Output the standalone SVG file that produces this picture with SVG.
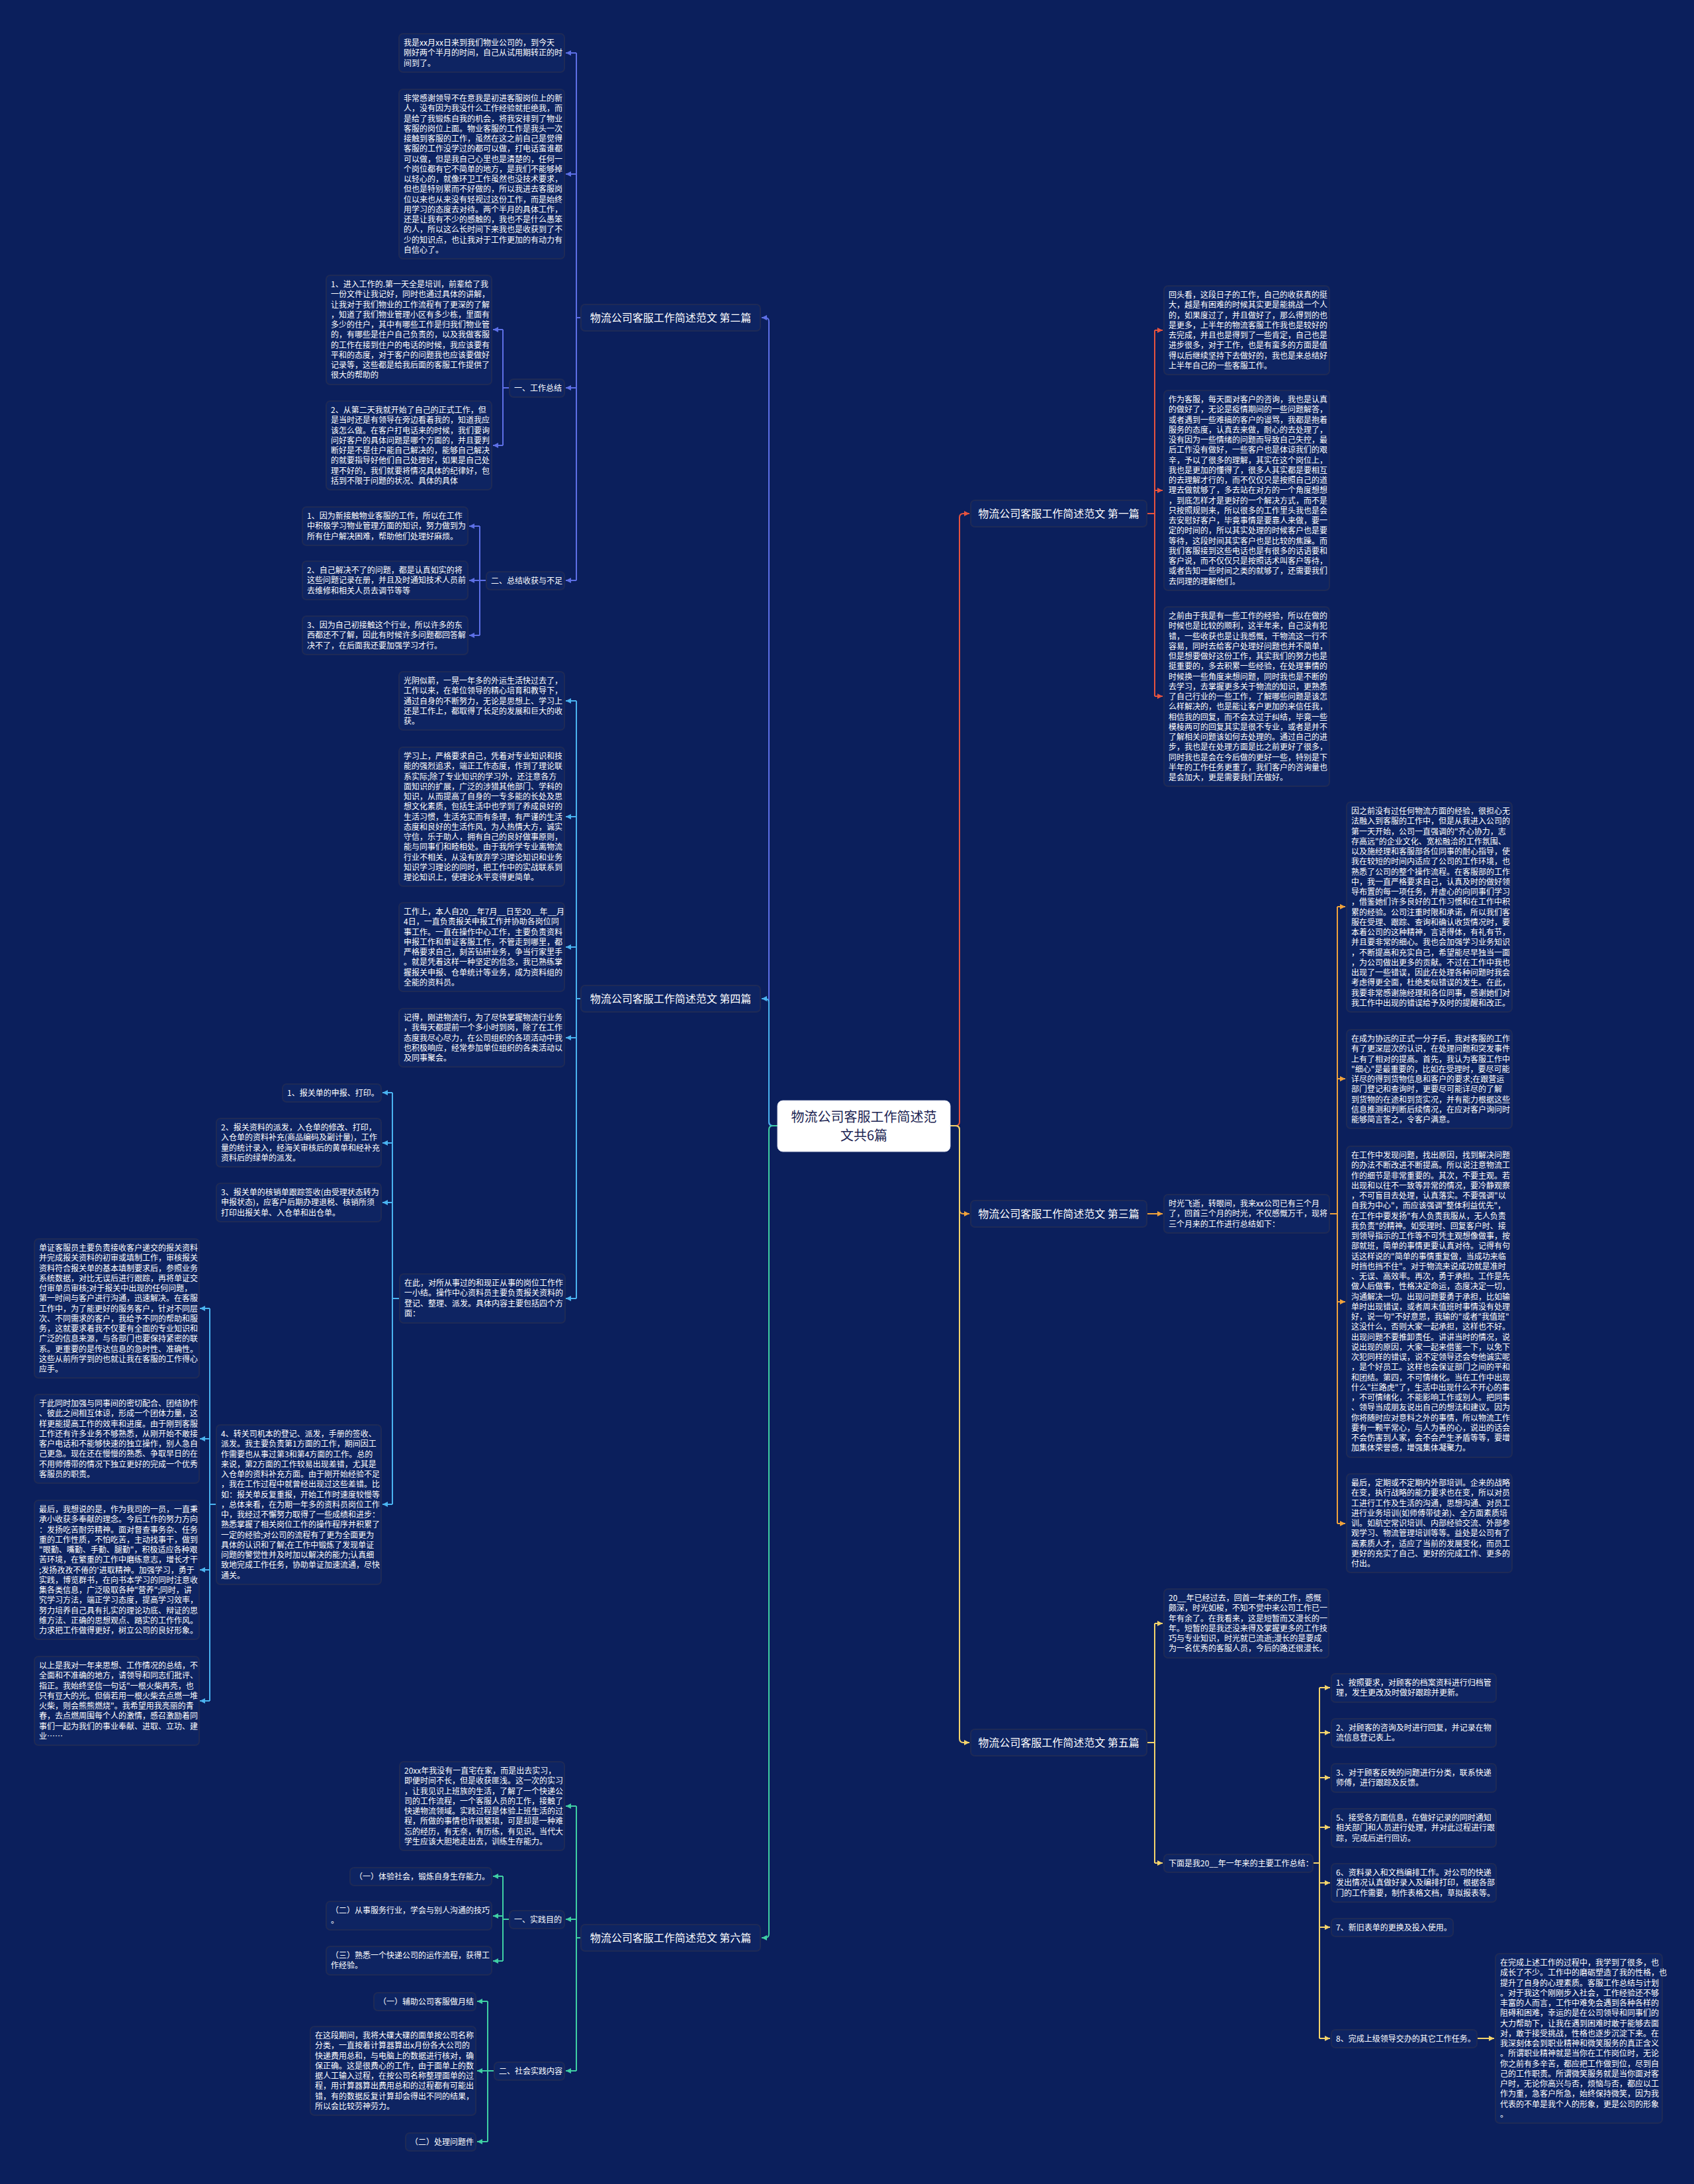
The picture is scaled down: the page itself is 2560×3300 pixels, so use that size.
<svg xmlns="http://www.w3.org/2000/svg" width="2560" height="3300" viewBox="0 0 2560 3300">
<defs>
<style>
.bg{fill:#0b1f5c}
.box{fill:#0e2462;stroke:#1e2a56;stroke-width:2}
.b1box{fill:#0e2462;stroke:#1e2a56;stroke-width:2}
.root{fill:#ffffff;stroke:#dfe3f0;stroke-width:1}
.t{font-family:"Noto Sans CJK SC","Noto Sans",sans-serif;font-size:12px;fill:#ffffff}
.t1{font-family:"Noto Sans CJK SC","Noto Sans",sans-serif;font-size:16px;fill:#ffffff;text-anchor:middle}
.tr{font-family:"Noto Sans CJK SC","Noto Sans",sans-serif;font-size:20px;fill:#1c2452;text-anchor:middle}
.c{fill:none;stroke-width:2;stroke-linejoin:round}
.cb{stroke:#5d6fe6}.cc{stroke:#4ab3f0}.cg{stroke:#3fcfa3}
.cr{stroke:#e5533f}.co{stroke:#f0a23c}.cy{stroke:#f3d36b}
</style>
<marker id="ab" viewBox="0 0 8 8" refX="8" refY="4" markerWidth="8" markerHeight="8" markerUnits="userSpaceOnUse" orient="auto"><path d="M0,0L8,4L0,8z" fill="#5d6fe6"/></marker>
<marker id="ac" viewBox="0 0 8 8" refX="8" refY="4" markerWidth="8" markerHeight="8" markerUnits="userSpaceOnUse" orient="auto"><path d="M0,0L8,4L0,8z" fill="#4ab3f0"/></marker>
<marker id="ag" viewBox="0 0 8 8" refX="8" refY="4" markerWidth="8" markerHeight="8" markerUnits="userSpaceOnUse" orient="auto"><path d="M0,0L8,4L0,8z" fill="#3fcfa3"/></marker>
<marker id="ar" viewBox="0 0 8 8" refX="8" refY="4" markerWidth="8" markerHeight="8" markerUnits="userSpaceOnUse" orient="auto"><path d="M0,0L8,4L0,8z" fill="#e5533f"/></marker>
<marker id="ao" viewBox="0 0 8 8" refX="8" refY="4" markerWidth="8" markerHeight="8" markerUnits="userSpaceOnUse" orient="auto"><path d="M0,0L8,4L0,8z" fill="#f0a23c"/></marker>
<marker id="ay" viewBox="0 0 8 8" refX="8" refY="4" markerWidth="8" markerHeight="8" markerUnits="userSpaceOnUse" orient="auto"><path d="M0,0L8,4L0,8z" fill="#f3d36b"/></marker>
</defs>
<rect class="bg" x="0" y="0" width="2560" height="3300"/>

<g id="connectors">
<path class="c cb" d="M1175,1701H1168Q1162,1701 1162,1695V486Q1162,480 1156,480H1151" marker-end="url(#ab)"/>
<path class="c cc" d="M1175,1701H1168Q1162,1701 1162,1695V1515Q1162,1509 1156,1509H1151" marker-end="url(#ac)"/>
<path class="c cg" d="M1175,1701H1168Q1162,1701 1162,1707V2922Q1162,2928 1156,2928H1151" marker-end="url(#ag)"/>
<path class="c cr" d="M1436,1701H1444Q1450,1701 1450,1695V782Q1450,776 1456,776H1465" marker-end="url(#ar)"/>
<path class="c co" d="M1436,1701H1444Q1450,1701 1450,1707V1828Q1450,1834 1456,1834H1465" marker-end="url(#ao)"/>
<path class="c cy" d="M1436,1701H1444Q1450,1701 1450,1707V2627Q1450,2633 1456,2633H1465" marker-end="url(#ay)"/>
<path class="c cb" d="M878,480H871M871,80V877"/>
<path class="c cb" d="M871,80H855" marker-end="url(#ab)"/>
<path class="c cb" d="M871,263H855" marker-end="url(#ab)"/>
<path class="c cb" d="M871,586H855" marker-end="url(#ab)"/>
<path class="c cb" d="M871,877H855" marker-end="url(#ab)"/>
<path class="c cb" d="M770,586H760M760,498V673"/>
<path class="c cb" d="M760,498H745" marker-end="url(#ab)"/>
<path class="c cb" d="M760,673H745" marker-end="url(#ab)"/>
<path class="c cb" d="M735,877H725M725,795V960"/>
<path class="c cb" d="M725,795H709" marker-end="url(#ab)"/>
<path class="c cb" d="M725,877H709" marker-end="url(#ab)"/>
<path class="c cb" d="M725,960H709" marker-end="url(#ab)"/>
<path class="c cc" d="M878,1509H871M871,1059V1962"/>
<path class="c cc" d="M871,1059H855" marker-end="url(#ac)"/>
<path class="c cc" d="M871,1234H855" marker-end="url(#ac)"/>
<path class="c cc" d="M871,1431H855" marker-end="url(#ac)"/>
<path class="c cc" d="M871,1568H855" marker-end="url(#ac)"/>
<path class="c cc" d="M871,1962H855" marker-end="url(#ac)"/>
<path class="c cc" d="M604,1962H593M593,1651V2273"/>
<path class="c cc" d="M593,1651H578" marker-end="url(#ac)"/>
<path class="c cc" d="M593,1727H578" marker-end="url(#ac)"/>
<path class="c cc" d="M593,1817H578" marker-end="url(#ac)"/>
<path class="c cc" d="M593,2273H578" marker-end="url(#ac)"/>
<path class="c cc" d="M327,2273H317M317,1977V2570"/>
<path class="c cc" d="M317,1977H302" marker-end="url(#ac)"/>
<path class="c cc" d="M317,2174H302" marker-end="url(#ac)"/>
<path class="c cc" d="M317,2372H302" marker-end="url(#ac)"/>
<path class="c cc" d="M317,2570H302" marker-end="url(#ac)"/>
<path class="c cg" d="M878,2928H871M871,2729V3129"/>
<path class="c cg" d="M871,2729H855" marker-end="url(#ag)"/>
<path class="c cg" d="M871,2900H855" marker-end="url(#ag)"/>
<path class="c cg" d="M871,3129H855" marker-end="url(#ag)"/>
<path class="c cg" d="M770,2900H760M760,2835V2963"/>
<path class="c cg" d="M760,2835H745" marker-end="url(#ag)"/>
<path class="c cg" d="M760,2895H745" marker-end="url(#ag)"/>
<path class="c cg" d="M760,2963H745" marker-end="url(#ag)"/>
<path class="c cg" d="M747,3129H737M737,3024V3236"/>
<path class="c cg" d="M737,3024H721" marker-end="url(#ag)"/>
<path class="c cg" d="M737,3129H721" marker-end="url(#ag)"/>
<path class="c cg" d="M737,3236H721" marker-end="url(#ag)"/>
<path class="c cr" d="M1733,776H1745M1745,499V1052"/>
<path class="c cr" d="M1745,499H1757" marker-end="url(#ar)"/>
<path class="c cr" d="M1745,741H1757" marker-end="url(#ar)"/>
<path class="c cr" d="M1745,1052H1757" marker-end="url(#ar)"/>
<path class="c co" d="M1733,1834H1757" marker-end="url(#ao)"/>
<path class="c co" d="M2009,1834H2021M2021,1370V2302"/>
<path class="c co" d="M2021,1370H2033" marker-end="url(#ao)"/>
<path class="c co" d="M2021,1630H2033" marker-end="url(#ao)"/>
<path class="c co" d="M2021,1967H2033" marker-end="url(#ao)"/>
<path class="c co" d="M2021,2302H2033" marker-end="url(#ao)"/>
<path class="c cy" d="M1733,2633H1745M1745,2453V2815"/>
<path class="c cy" d="M1745,2453H1757" marker-end="url(#ay)"/>
<path class="c cy" d="M1745,2815H1757" marker-end="url(#ay)"/>
<path class="c cy" d="M1984,2815H1994M1994,2550V3080"/>
<path class="c cy" d="M1994,2550H2010" marker-end="url(#ay)"/>
<path class="c cy" d="M1994,2618H2010" marker-end="url(#ay)"/>
<path class="c cy" d="M1994,2686H2010" marker-end="url(#ay)"/>
<path class="c cy" d="M1994,2761H2010" marker-end="url(#ay)"/>
<path class="c cy" d="M1994,2845H2010" marker-end="url(#ay)"/>
<path class="c cy" d="M1994,2912H2010" marker-end="url(#ay)"/>
<path class="c cy" d="M1994,3080H2010" marker-end="url(#ay)"/>
<path class="c cy" d="M2232,3080H2258" marker-end="url(#ay)"/>
</g>

<g id="root">
<rect class="root" x="1175" y="1663" width="261" height="77" rx="8"/>
<text class="tr" x="1305.5" y="1695">物流公司客服工作简述范</text>
<text class="tr" x="1305.5" y="1723">文共6篇</text>
</g>

<g id="b2"><rect class="b1box" x="878" y="460" width="271" height="40" rx="6"/><text class="t1" x="1013.5" y="485.5">物流公司客服工作简述范文 第二篇</text></g>
<g id="b4"><rect class="b1box" x="878" y="1489" width="271" height="40" rx="6"/><text class="t1" x="1013.5" y="1514.5">物流公司客服工作简述范文 第四篇</text></g>
<g id="b6"><rect class="b1box" x="878" y="2908" width="271" height="40" rx="6"/><text class="t1" x="1013.5" y="2933.5">物流公司客服工作简述范文 第六篇</text></g>
<g id="b1"><rect class="b1box" x="1467" y="756" width="266" height="40" rx="6"/><text class="t1" x="1600" y="781.5">物流公司客服工作简述范文 第一篇</text></g>
<g id="b3"><rect class="b1box" x="1467" y="1814" width="266" height="40" rx="6"/><text class="t1" x="1600" y="1839.5">物流公司客服工作简述范文 第三篇</text></g>
<g id="b5"><rect class="b1box" x="1467" y="2613" width="266" height="40" rx="6"/><text class="t1" x="1600" y="2638.5">物流公司客服工作简述范文 第五篇</text></g>

<g id="b2-p1"><rect class="box" x="603" y="51" width="250" height="58" rx="6"/>
<text class="t" x="610" y="69"><tspan x="610" dy="0">我是xx月xx日来到我们物业公司的，到今天</tspan><tspan x="610" dy="15.25">刚好两个半月的时间，自己从试用期转正的时</tspan><tspan x="610" dy="15.25">间到了。</tspan></text></g>
<g id="b2-p2"><rect class="box" x="603" y="135" width="250" height="256" rx="6"/>
<text class="t" x="610" y="153"><tspan x="610" dy="0">非常感谢领导不在意我是初进客服岗位上的新</tspan><tspan x="610" dy="15.25">人，没有因为我没什么工作经验就拒绝我，而</tspan><tspan x="610" dy="15.25">是给了我锻炼自我的机会，将我安排到了物业</tspan><tspan x="610" dy="15.25">客服的岗位上面。物业客服的工作是我头一次</tspan><tspan x="610" dy="15.25">接触到客服的工作，虽然在这之前自己是觉得</tspan><tspan x="610" dy="15.25">客服的工作没学过的都可以做，打电话蛮谁都</tspan><tspan x="610" dy="15.25">可以做，但是我自己心里也是清楚的，任何一</tspan><tspan x="610" dy="15.25">个岗位都有它不简单的地方，是我们不能够掉</tspan><tspan x="610" dy="15.25">以轻心的，就像环卫工作虽然也没技术要求，</tspan><tspan x="610" dy="15.25">但也是特别累而不好做的，所以我进去客服岗</tspan><tspan x="610" dy="15.25">位以来也从来没有轻视过这份工作，而是始终</tspan><tspan x="610" dy="15.25">用学习的态度去对待。两个半月的具体工作，</tspan><tspan x="610" dy="15.25">还是让我有不少的感触的，我也不是什么愚笨</tspan><tspan x="610" dy="15.25">的人，所以这么长时间下来我也是收获到了不</tspan><tspan x="610" dy="15.25">少的知识点，也让我对于工作更加的有动力有</tspan><tspan x="610" dy="15.25">自信心了。</tspan></text></g>
<g id="b2-s1"><rect class="box" x="770" y="573" width="83" height="27" rx="6"/><text class="t" x="777" y="591">一、工作总结</text></g>
<g id="b2-s1-1"><rect class="box" x="493" y="416" width="250" height="165" rx="6"/>
<text class="t" x="500" y="434"><tspan x="500" dy="0">1、进入工作的.第一天全是培训，前辈给了我</tspan><tspan x="500" dy="15.25">一份文件让我记好，同时也通过具体的讲解，</tspan><tspan x="500" dy="15.25">让我对于我们物业的工作流程有了更深的了解</tspan><tspan x="500" dy="15.25">，知道了我们物业管理小区有多少栋，里面有</tspan><tspan x="500" dy="15.25">多少的住户，其中有哪些工作是归我们物业管</tspan><tspan x="500" dy="15.25">的，有哪些是住户自己负责的，以及我做客服</tspan><tspan x="500" dy="15.25">的工作在接到住户的电话的时候，我应该要有</tspan><tspan x="500" dy="15.25">平和的态度，对于客户的问题我也应该要做好</tspan><tspan x="500" dy="15.25">记录等，这些都是给我后面的客服工作提供了</tspan><tspan x="500" dy="15.25">很大的帮助的</tspan></text></g>
<g id="b2-s1-2"><rect class="box" x="493" y="606" width="250" height="134" rx="6"/>
<text class="t" x="500" y="624"><tspan x="500" dy="0">2、从第二天我就开始了自己的正式工作，但</tspan><tspan x="500" dy="15.25">是当时还是有领导在旁边看着我的，知道我应</tspan><tspan x="500" dy="15.25">该怎么做。在客户打电话来的时候，我们要询</tspan><tspan x="500" dy="15.25">问好客户的具体问题是哪个方面的，并且要判</tspan><tspan x="500" dy="15.25">断好是不是住户能自己解决的，能够自己解决</tspan><tspan x="500" dy="15.25">的就要指导好他们自己处理好，如果是自己处</tspan><tspan x="500" dy="15.25">理不好的，我们就要将情况具体的纪律好，包</tspan><tspan x="500" dy="15.25">括到不限于问题的状况、具体的具体</tspan></text></g>
<g id="b2-s2"><rect class="box" x="735" y="864" width="118" height="27" rx="6"/><text class="t" x="742" y="882">二、总结收获与不足</text></g>
<g id="b2-s2-1"><rect class="box" x="457" y="766" width="250" height="58" rx="6"/>
<text class="t" x="464" y="784"><tspan x="464" dy="0">1、因为新接触物业客服的工作，所以在工作</tspan><tspan x="464" dy="15.25">中积极学习物业管理方面的知识，努力做到为</tspan><tspan x="464" dy="15.25">所有住户解决困难，帮助他们处理好麻烦。</tspan></text></g>
<g id="b2-s2-2"><rect class="box" x="457" y="848" width="250" height="58" rx="6"/>
<text class="t" x="464" y="866"><tspan x="464" dy="0">2、自己解决不了的问题，都是认真如实的将</tspan><tspan x="464" dy="15.25">这些问题记录在册，并且及时通知技术人员前</tspan><tspan x="464" dy="15.25">去维修和相关人员去调节等等</tspan></text></g>
<g id="b2-s2-3"><rect class="box" x="457" y="931" width="250" height="58" rx="6"/>
<text class="t" x="464" y="949"><tspan x="464" dy="0">3、因为自己初接触这个行业，所以许多的东</tspan><tspan x="464" dy="15.25">西都还不了解，因此有时候许多问题都回答解</tspan><tspan x="464" dy="15.25">决不了，在后面我还要加强学习才行。</tspan></text></g>

<g id="b4-p1"><rect class="box" x="603" y="1015" width="250" height="88" rx="6"/>
<text class="t" x="610" y="1033"><tspan x="610" dy="0">光阴似箭，一晃一年多的外运生活快过去了，</tspan><tspan x="610" dy="15.25">工作以来，在单位领导的精心培育和教导下，</tspan><tspan x="610" dy="15.25">通过自身的不断努力，无论是思想上、学习上</tspan><tspan x="610" dy="15.25">还是工作上，都取得了长足的发展和巨大的收</tspan><tspan x="610" dy="15.25">获。</tspan></text></g>
<g id="b4-p2"><rect class="box" x="603" y="1129" width="250" height="210" rx="6"/>
<text class="t" x="610" y="1147"><tspan x="610" dy="0">学习上，严格要求自己，凭着对专业知识和技</tspan><tspan x="610" dy="15.25">能的强烈追求，端正工作态度，作到了理论联</tspan><tspan x="610" dy="15.25">系实际;除了专业知识的学习外，还注意各方</tspan><tspan x="610" dy="15.25">面知识的扩展，广泛的涉猎其他部门、学科的</tspan><tspan x="610" dy="15.25">知识，从而提高了自身的一专多能的长处及思</tspan><tspan x="610" dy="15.25">想文化素质，包括生活中也学到了养成良好的</tspan><tspan x="610" dy="15.25">生活习惯，生活充实而有条理，有严谨的生活</tspan><tspan x="610" dy="15.25">态度和良好的生活作风，为人热情大方，诚实</tspan><tspan x="610" dy="15.25">守信，乐于助人，拥有自己的良好做事原则，</tspan><tspan x="610" dy="15.25">能与同事们和睦相处。由于我所学专业离物流</tspan><tspan x="610" dy="15.25">行业不相关，从没有放弃学习理论知识和业务</tspan><tspan x="610" dy="15.25">知识学习理论的同时，把工作中的实战联系到</tspan><tspan x="610" dy="15.25">理论知识上，使理论水平变得更简单。</tspan></text></g>
<g id="b4-p3"><rect class="box" x="603" y="1364" width="250" height="134" rx="6"/>
<text class="t" x="610" y="1382"><tspan x="610" dy="0">工作上，本人自20__年7月__日至20__年__月</tspan><tspan x="610" dy="15.25">4日，一直负责报关申报工作并协助各岗位同</tspan><tspan x="610" dy="15.25">事工作。一直在操作中心工作，主要负责资料</tspan><tspan x="610" dy="15.25">申报工作和单证客服工作，不管走到哪里，都</tspan><tspan x="610" dy="15.25">严格要求自己，刻苦钻研业务，争当行家里手</tspan><tspan x="610" dy="15.25">。就是凭着这样一种坚定的信念，我已熟练掌</tspan><tspan x="610" dy="15.25">握报关申报、仓单统计等业务，成为资料组的</tspan><tspan x="610" dy="15.25">全能的资料员。</tspan></text></g>
<g id="b4-p4"><rect class="box" x="603" y="1524" width="250" height="88" rx="6"/>
<text class="t" x="610" y="1542"><tspan x="610" dy="0">记得，刚进物流行，为了尽快掌握物流行业务</tspan><tspan x="610" dy="15.25">，我每天都提前一个多小时到岗，除了在工作</tspan><tspan x="610" dy="15.25">态度我尽心尽力，在公司组织的各项活动中我</tspan><tspan x="610" dy="15.25">也积极响应，经常参加单位组织的各类活动以</tspan><tspan x="610" dy="15.25">及同事聚会。</tspan></text></g>
<g id="b4-p5"><rect class="box" x="604" y="1925" width="250" height="74" rx="6"/>
<text class="t" x="611" y="1943"><tspan x="611" dy="0">在此，对所从事过的和现正从事的岗位工作作</tspan><tspan x="611" dy="15.25">一小结。操作中心资料员主要负责报关资料的</tspan><tspan x="611" dy="15.25">登记、整理、派发。具体内容主要包括四个方</tspan><tspan x="611" dy="15.25">面：</tspan></text></g>
<g id="b4-i1"><rect class="box" x="427" y="1638" width="149" height="27" rx="6"/><text class="t" x="434" y="1656">1、报关单的申报、打印。</text></g>
<g id="b4-i2"><rect class="box" x="327" y="1690" width="249" height="73" rx="6"/>
<text class="t" x="334" y="1708"><tspan x="334" dy="0">2、报关资料的派发，入仓单的修改、打印，</tspan><tspan x="334" dy="15.25">入仓单的资料补充(商品编码及副计量)，工作</tspan><tspan x="334" dy="15.25">量的统计录入，经海关审核后的黄单和经补充</tspan><tspan x="334" dy="15.25">资料后的绿单的派发。</tspan></text></g>
<g id="b4-i3"><rect class="box" x="327" y="1788" width="249" height="58" rx="6"/>
<text class="t" x="334" y="1806"><tspan x="334" dy="0">3、报关单的核销单跟踪签收(由受理状态转为</tspan><tspan x="334" dy="15.25">申报状态)，应客户后期办理退税、核销所须</tspan><tspan x="334" dy="15.25">打印出报关单、入仓单和出仓单。</tspan></text></g>
<g id="b4-i4"><rect class="box" x="327" y="2153" width="249" height="241" rx="6"/>
<text class="t" x="334" y="2171"><tspan x="334" dy="0">4、转关司机本的登记、派发，手册的签收、</tspan><tspan x="334" dy="15.25">派发。我主要负责第1方面的工作，期间因工</tspan><tspan x="334" dy="15.25">作需要也从事过第3和第4方面的工作。总的</tspan><tspan x="334" dy="15.25">来说，第2方面的工作较易出现差错，尤其是</tspan><tspan x="334" dy="15.25">入仓单的资料补充方面。由于刚开始经验不足</tspan><tspan x="334" dy="15.25">，我在工作过程中就曾经出现过这些差错。比</tspan><tspan x="334" dy="15.25">如：报关单反复重报，开始工作时速度较慢等</tspan><tspan x="334" dy="15.25">，总体来看，在为期一年多的资料员岗位工作</tspan><tspan x="334" dy="15.25">中，我经过不懈努力取得了一些成绩和进步：</tspan><tspan x="334" dy="15.25">熟悉掌握了相关岗位工作的操作程序并积累了</tspan><tspan x="334" dy="15.25">一定的经验;对公司的流程有了更为全面更为</tspan><tspan x="334" dy="15.25">具体的认识和了解;在工作中锻炼了发现单证</tspan><tspan x="334" dy="15.25">问题的警觉性并及时加以解决的能力;认真细</tspan><tspan x="334" dy="15.25">致地完成工作任务，协助单证加速流通，尽快</tspan><tspan x="334" dy="15.25">通关。</tspan></text></g>
<g id="b4-f1"><rect class="box" x="52" y="1872" width="249" height="210" rx="6"/>
<text class="t" x="59" y="1890"><tspan x="59" dy="0">单证客服员主要负责接收客户递交的报关资料</tspan><tspan x="59" dy="15.25">并完成报关资料的初审或填制工作，审核报关</tspan><tspan x="59" dy="15.25">资料符合报关单的基本填制要求后，参照业务</tspan><tspan x="59" dy="15.25">系统数据，对比无误后进行跟踪，再将单证交</tspan><tspan x="59" dy="15.25">付审单员审核;对于报关中出现的任何问题，</tspan><tspan x="59" dy="15.25">第一时间与客户进行沟通，迅速解决。在客服</tspan><tspan x="59" dy="15.25">工作中，为了能更好的服务客户，针对不同层</tspan><tspan x="59" dy="15.25">次、不同需求的客户，我给予不同的帮助和服</tspan><tspan x="59" dy="15.25">务，这就要求着我不仅要有全面的专业知识和</tspan><tspan x="59" dy="15.25">广泛的信息来源，与各部门也要保持紧密的联</tspan><tspan x="59" dy="15.25">系。更重要的是传达信息的急时性、准确性。</tspan><tspan x="59" dy="15.25">这些从前所学到的也就让我在客服的工作得心</tspan><tspan x="59" dy="15.25">应手。</tspan></text></g>
<g id="b4-f2"><rect class="box" x="52" y="2107" width="249" height="134" rx="6"/>
<text class="t" x="59" y="2125"><tspan x="59" dy="0">于此同时加强与同事间的密切配合、团结协作</tspan><tspan x="59" dy="15.25">、彼此之间相互体谅，形成一个团体力量，这</tspan><tspan x="59" dy="15.25">样更能提高工作的效率和进度。由于刚到客服</tspan><tspan x="59" dy="15.25">工作还有许多业务不够熟悉，从刚开始不敢接</tspan><tspan x="59" dy="15.25">客户电话和不能够快速的独立操作，别人急自</tspan><tspan x="59" dy="15.25">己更急。现在还在慢慢的熟悉、争取早日的在</tspan><tspan x="59" dy="15.25">不用师傅带的情况下独立更好的完成一个优秀</tspan><tspan x="59" dy="15.25">客服员的职责。</tspan></text></g>
<g id="b4-f3"><rect class="box" x="52" y="2267" width="249" height="210" rx="6"/>
<text class="t" x="59" y="2285"><tspan x="59" dy="0">最后，我想说的是，作为我司的一员，一直秉</tspan><tspan x="59" dy="15.25">承小收获多奉献的理念。今后工作的努力方向</tspan><tspan x="59" dy="15.25">：发扬吃苦耐劳精神。面对督查事务杂、任务</tspan><tspan x="59" dy="15.25">重的工作性质，不怕吃苦，主动找事干，做到</tspan><tspan x="59" dy="15.25">"眼勤、嘴勤、手勤、腿勤"，积极适应各种艰</tspan><tspan x="59" dy="15.25">苦环境，在繁重的工作中磨练意志，增长才干</tspan><tspan x="59" dy="15.25">;发扬孜孜不倦的'进取精神。加强学习，勇于</tspan><tspan x="59" dy="15.25">实践，博览群书，在向书本学习的同时注意收</tspan><tspan x="59" dy="15.25">集各类信息，广泛吸取各种"营养";同时，讲</tspan><tspan x="59" dy="15.25">究学习方法，端正学习态度，提高学习效率，</tspan><tspan x="59" dy="15.25">努力培养自己具有扎实的理论功底、辩证的思</tspan><tspan x="59" dy="15.25">维方法、正确的思想观点、踏实的工作作风。</tspan><tspan x="59" dy="15.25">力求把工作做得更好，树立公司的良好形象。</tspan></text></g>
<g id="b4-f4"><rect class="box" x="52" y="2503" width="249" height="134" rx="6"/>
<text class="t" x="59" y="2521"><tspan x="59" dy="0">以上是我对一年来思想、工作情况的总结，不</tspan><tspan x="59" dy="15.25">全面和不准确的地方，请领导和同志们批评、</tspan><tspan x="59" dy="15.25">指正。我始终坚信一句话"一根火柴再亮，也</tspan><tspan x="59" dy="15.25">只有豆大的光。但倘若用一根火柴去点燃一堆</tspan><tspan x="59" dy="15.25">火柴，则会熊熊燃烧"。我希望用我亮丽的青</tspan><tspan x="59" dy="15.25">春，去点燃周围每个人的激情，感召激励着同</tspan><tspan x="59" dy="15.25">事们一起为我们的事业奉献、进取、立功、建</tspan><tspan x="59" dy="15.25">业……</tspan></text></g>

<g id="b6-p1"><rect class="box" x="604" y="2662" width="249" height="134" rx="6"/>
<text class="t" x="611" y="2680"><tspan x="611" dy="0">20xx年我没有一直宅在家，而是出去实习，</tspan><tspan x="611" dy="15.25">即便时间不长，但是收获匪浅。这一次的实习</tspan><tspan x="611" dy="15.25">，让我见识上班族的生活，了解了一个快递公</tspan><tspan x="611" dy="15.25">司的工作流程，一个客服人员的工作，接触了</tspan><tspan x="611" dy="15.25">快递物流领域。实践过程是体验上班生活的过</tspan><tspan x="611" dy="15.25">程，所做的事情也许很繁琐，可是却是一种难</tspan><tspan x="611" dy="15.25">忘的经历，有无奈，有历练，有见识。当代大</tspan><tspan x="611" dy="15.25">学生应该大胆地走出去，训练生存能力。</tspan></text></g>
<g id="b6-s1"><rect class="box" x="770" y="2887" width="83" height="27" rx="6"/><text class="t" x="777" y="2905">一、实践目的</text></g>
<g id="b6-s1-1"><rect class="box" x="529" y="2822" width="214" height="27" rx="6"/><text class="t" x="536" y="2840">（一）体验社会，锻炼自身生存能力。</text></g>
<g id="b6-s1-2"><rect class="box" x="493" y="2873" width="250" height="43" rx="6"/>
<text class="t" x="500" y="2891"><tspan x="500" dy="0">（二）从事服务行业，学会与别人沟通的技巧</tspan><tspan x="500" dy="15.25">。</tspan></text></g>
<g id="b6-s1-3"><rect class="box" x="493" y="2941" width="250" height="43" rx="6"/>
<text class="t" x="500" y="2959"><tspan x="500" dy="0">（三）熟悉一个快递公司的运作流程，获得工</tspan><tspan x="500" dy="15.25">作经验。</tspan></text></g>
<g id="b6-s2"><rect class="box" x="747" y="3116" width="106" height="27" rx="6"/><text class="t" x="754" y="3134">二、社会实践内容</text></g>
<g id="b6-s2-1"><rect class="box" x="565" y="3011" width="154" height="27" rx="6"/><text class="t" x="572" y="3029">（一）辅助公司客服做月结</text></g>
<g id="b6-s2-2"><rect class="box" x="469" y="3062" width="250" height="134" rx="6"/>
<text class="t" x="476" y="3080"><tspan x="476" dy="0">在这段期间，我将大碟大碟的面单按公司名称</tspan><tspan x="476" dy="15.25">分类，一直按着计算器算出x月份各大公司的</tspan><tspan x="476" dy="15.25">快递费用总和，与电脑上的数据进行核对，确</tspan><tspan x="476" dy="15.25">保正确。这是很费心的工作，由于面单上的数</tspan><tspan x="476" dy="15.25">据人工输入过程，在按公司名称整理面单的过</tspan><tspan x="476" dy="15.25">程，用计算器算出费用总和的过程都有可能出</tspan><tspan x="476" dy="15.25">错，有的数据反复计算却会得出不同的结果，</tspan><tspan x="476" dy="15.25">所以会比较劳神劳力。</tspan></text></g>
<g id="b6-s2-3"><rect class="box" x="613" y="3223" width="106" height="27" rx="6"/><text class="t" x="620" y="3241">（二）处理问题件</text></g>

<g id="b1-p1"><rect class="box" x="1759" y="432" width="250" height="134" rx="6"/>
<text class="t" x="1766" y="450"><tspan x="1766" dy="0">回头看，这段日子的工作，自己的收获真的挺</tspan><tspan x="1766" dy="15.25">大，越是有困难的时候其实更是能挑战一个人</tspan><tspan x="1766" dy="15.25">的，如果度过了，并且做好了，那么得到的也</tspan><tspan x="1766" dy="15.25">是更多，上半年的物流客服工作我也是较好的</tspan><tspan x="1766" dy="15.25">去完成，并且也是得到了一些肯定，自己也是</tspan><tspan x="1766" dy="15.25">进步很多，对于工作，也是有蛮多的方面是值</tspan><tspan x="1766" dy="15.25">得以后继续坚持下去做好的，我也是来总结好</tspan><tspan x="1766" dy="15.25">上半年自己的一些客服工作。</tspan></text></g>
<g id="b1-p2"><rect class="box" x="1759" y="590" width="250" height="302" rx="6"/>
<text class="t" x="1766" y="608"><tspan x="1766" dy="0">作为客服，每天面对客户的咨询，我也是认真</tspan><tspan x="1766" dy="15.25">的做好了，无论是疫情期间的一些问题解答，</tspan><tspan x="1766" dy="15.25">或者遇到一些难搞的客户的谩骂，我都是抱着</tspan><tspan x="1766" dy="15.25">服务的态度，认真去来做，耐心的去处理了，</tspan><tspan x="1766" dy="15.25">没有因为一些情绪的问题而导致自己失控，最</tspan><tspan x="1766" dy="15.25">后工作没有做好，一些客户也是体谅我们的艰</tspan><tspan x="1766" dy="15.25">辛，予以了很多的理解，其实在这个岗位上，</tspan><tspan x="1766" dy="15.25">我也是更加的懂得了，很多人其实都是要相互</tspan><tspan x="1766" dy="15.25">的去理解才行的，而不仅仅只是按照自己的道</tspan><tspan x="1766" dy="15.25">理去做就够了，多去站在对方的一个角度想想</tspan><tspan x="1766" dy="15.25">，到底怎样才是更好的一个解决方式，而不是</tspan><tspan x="1766" dy="15.25">只按照规则来，所以很多的工作里头我也是会</tspan><tspan x="1766" dy="15.25">去安慰好客户，毕竟事情是要靠人来做，要一</tspan><tspan x="1766" dy="15.25">定的时间的，所以其实处理的时候客户也是要</tspan><tspan x="1766" dy="15.25">等待，这段时间其实客户也是比较的焦躁。而</tspan><tspan x="1766" dy="15.25">我们客服接到这些电话也是有很多的话语要和</tspan><tspan x="1766" dy="15.25">客户说，而不仅仅只是按照话术叫客户等待，</tspan><tspan x="1766" dy="15.25">或者告知一些时间之类的就够了，还需要我们</tspan><tspan x="1766" dy="15.25">去同理的理解他们。</tspan></text></g>
<g id="b1-p3"><rect class="box" x="1759" y="917" width="250" height="271" rx="6"/>
<text class="t" x="1766" y="935"><tspan x="1766" dy="0">之前由于我是有一些工作的经验，所以在做的</tspan><tspan x="1766" dy="15.25">时候也是比较的顺利，这半年来，自己没有犯</tspan><tspan x="1766" dy="15.25">错，一些收获也是让我感慨，干物流这一行不</tspan><tspan x="1766" dy="15.25">容易，同时去给客户处理好问题也并不简单，</tspan><tspan x="1766" dy="15.25">但是想要做好这份工作，其实我们的努力也是</tspan><tspan x="1766" dy="15.25">挺重要的，多去积累一些经验，在处理事情的</tspan><tspan x="1766" dy="15.25">时候换一些角度来想问题，同时我也是不断的</tspan><tspan x="1766" dy="15.25">去学习，去掌握更多关于物流的知识，更熟悉</tspan><tspan x="1766" dy="15.25">了自己行业的一些工作，了解哪些问题是该怎</tspan><tspan x="1766" dy="15.25">么样解决的，也是能让客户更加的来信任我，</tspan><tspan x="1766" dy="15.25">相信我的回复，而不会太过于纠结，毕竟一些</tspan><tspan x="1766" dy="15.25">模棱两可的回复其实是很不专业，或者是并不</tspan><tspan x="1766" dy="15.25">了解相关问题该如何去处理的。通过自己的进</tspan><tspan x="1766" dy="15.25">步，我也是在处理方面是比之前更好了很多，</tspan><tspan x="1766" dy="15.25">同时我也是会在今后做的更好一些，特别是下</tspan><tspan x="1766" dy="15.25">半年的工作任务更重了，我们客户的咨询量也</tspan><tspan x="1766" dy="15.25">是会加大，更是需要我们去做好。</tspan></text></g>

<g id="b3-p0"><rect class="box" x="1759" y="1805" width="250" height="58" rx="6"/>
<text class="t" x="1766" y="1823"><tspan x="1766" dy="0">时光飞逝，转眼间，我来xx公司已有三个月</tspan><tspan x="1766" dy="15.25">了，回首三个月的时光，不仅感慨万千，现将</tspan><tspan x="1766" dy="15.25">三个月来的工作进行总结如下：</tspan></text></g>
<g id="b3-p1"><rect class="box" x="2035" y="1212" width="250" height="317" rx="6"/>
<text class="t" x="2042" y="1230"><tspan x="2042" dy="0">因之前没有过任何物流方面的经验，很担心无</tspan><tspan x="2042" dy="15.25">法融入到客服的工作中，但是从我进入公司的</tspan><tspan x="2042" dy="15.25">第一天开始，公司一直强调的"齐心协力，志</tspan><tspan x="2042" dy="15.25">存高远"的企业文化、宽松融洽的工作氛围、</tspan><tspan x="2042" dy="15.25">以及施经理和客服部各位同事的耐心指导，使</tspan><tspan x="2042" dy="15.25">我在较短的时间内适应了公司的工作环境，也</tspan><tspan x="2042" dy="15.25">熟悉了公司的整个操作流程。在客服部的工作</tspan><tspan x="2042" dy="15.25">中，我一直严格要求自己，认真及时的做好领</tspan><tspan x="2042" dy="15.25">导布置的每一项任务，并虚心的向同事们学习</tspan><tspan x="2042" dy="15.25">，借鉴她们许多良好的工作习惯和在工作中积</tspan><tspan x="2042" dy="15.25">累的经验。公司注重时限和承诺，所以我们客</tspan><tspan x="2042" dy="15.25">服在受理、跟踪、查询和确认收货情况时，要</tspan><tspan x="2042" dy="15.25">本着公司的这种精神，言语得体，有礼有节，</tspan><tspan x="2042" dy="15.25">并且要非常的细心。我也会加强学习业务知识</tspan><tspan x="2042" dy="15.25">，不断提高和充实自己，希望能尽早独当一面</tspan><tspan x="2042" dy="15.25">，为公司做出更多的贡献。不过在工作中我也</tspan><tspan x="2042" dy="15.25">出现了一些错误，因此在处理各种问题时我会</tspan><tspan x="2042" dy="15.25">考虑得更全面，杜绝类似错误的发生。在此，</tspan><tspan x="2042" dy="15.25">我要非常感谢施经理和各位同事，感谢她们对</tspan><tspan x="2042" dy="15.25">我工作中出现的错误给予及时的提醒和改正。</tspan></text></g>
<g id="b3-p2"><rect class="box" x="2035" y="1556" width="250" height="149" rx="6"/>
<text class="t" x="2042" y="1574"><tspan x="2042" dy="0">在成为协远的正式一分子后，我对客服的工作</tspan><tspan x="2042" dy="15.25">有了更深层次的认识，在处理问题和突发事件</tspan><tspan x="2042" dy="15.25">上有了相对的提高。首先，我认为客服工作中</tspan><tspan x="2042" dy="15.25">"细心"是最重要的，比如在受理时，要尽可能</tspan><tspan x="2042" dy="15.25">详尽的得到货物信息和客户的要求;在跟营运</tspan><tspan x="2042" dy="15.25">部门登记和查询时，更要尽可能详尽的了解</tspan><tspan x="2042" dy="15.25">到货物的在途和到货实况，并有能力根据这些</tspan><tspan x="2042" dy="15.25">信息推测和判断后续情况，在应对客户询问时</tspan><tspan x="2042" dy="15.25">能够简言答之，令客户满意。</tspan></text></g>
<g id="b3-p3"><rect class="box" x="2035" y="1732" width="250" height="470" rx="6"/>
<text class="t" x="2042" y="1750"><tspan x="2042" dy="0">在工作中发现问题，找出原因，找到解决问题</tspan><tspan x="2042" dy="15.25">的办法不断改进不断提高。所以说注意物流工</tspan><tspan x="2042" dy="15.25">作的细节是非常重要的。其次，不要主观。若</tspan><tspan x="2042" dy="15.25">出现和以往不一致等异常的情况，要冷静观察</tspan><tspan x="2042" dy="15.25">，不可盲目去处理，认真落实。不要强调"以</tspan><tspan x="2042" dy="15.25">自我为中心"，而应该强调"整体利益优先"，</tspan><tspan x="2042" dy="15.25">在工作中要发扬"有人负责我服从，无人负责</tspan><tspan x="2042" dy="15.25">我负责"的精神。如受理时、回复客户时、接</tspan><tspan x="2042" dy="15.25">到领导指示的工作等不可凭主观想像做事，按</tspan><tspan x="2042" dy="15.25">部就班，简单的事情更要认真对待。记得有句</tspan><tspan x="2042" dy="15.25">话这样说的"简单的事情重复做，当成功来临</tspan><tspan x="2042" dy="15.25">时挡也挡不住"。对于物流来说成功就是准时</tspan><tspan x="2042" dy="15.25">、无误、高效率。再次，勇于承担。工作是先</tspan><tspan x="2042" dy="15.25">做人后做事，性格决定命运，态度决定一切，</tspan><tspan x="2042" dy="15.25">沟通解决一切。出现问题要勇于承担，比如输</tspan><tspan x="2042" dy="15.25">单时出现错误，或者周末值班时事情没有处理</tspan><tspan x="2042" dy="15.25">好，说一句"不好意思，我输的"或者"我值班"</tspan><tspan x="2042" dy="15.25">这没什么，否则大家一起承担，这样也不好。</tspan><tspan x="2042" dy="15.25">出现问题不要推卸责任。讲讲当时的情况，说</tspan><tspan x="2042" dy="15.25">说出现的原因，大家一起来借鉴一下，以免下</tspan><tspan x="2042" dy="15.25">次犯同样的错误，说不定领导还会夸他诚实呢</tspan><tspan x="2042" dy="15.25">，是个好员工。这样也会保证部门之间的平和</tspan><tspan x="2042" dy="15.25">和团结。第四，不可情绪化。当在工作中出现</tspan><tspan x="2042" dy="15.25">什么"拦路虎"了，生活中出现什么不开心的事</tspan><tspan x="2042" dy="15.25">，不可情绪化，不能影响工作或别人。把同事</tspan><tspan x="2042" dy="15.25">、领导当成朋友说出自己的想法和建议。因为</tspan><tspan x="2042" dy="15.25">你将随时应对意料之外的事情，所以物流工作</tspan><tspan x="2042" dy="15.25">要有一颗平常心，与人为善的心，说出的话会</tspan><tspan x="2042" dy="15.25">不会伤害到人家，会不会产生矛盾等等，要增</tspan><tspan x="2042" dy="15.25">加集体荣誉感，增强集体凝聚力。</tspan></text></g>
<g id="b3-p4"><rect class="box" x="2035" y="2227" width="250" height="149" rx="6"/>
<text class="t" x="2042" y="2245"><tspan x="2042" dy="0">最后，定期或不定期内外部培训。企来的战略</tspan><tspan x="2042" dy="15.25">在变，执行战略的能力要求也在变，所以对员</tspan><tspan x="2042" dy="15.25">工进行工作及生活的沟通，思想沟通、对员工</tspan><tspan x="2042" dy="15.25">进行业务培训(如师傅带徒弟)、全方面素质培</tspan><tspan x="2042" dy="15.25">训。如航空常识培训、内部经验交流、外部参</tspan><tspan x="2042" dy="15.25">观学习、物流管理培训等等。益处是公司有了</tspan><tspan x="2042" dy="15.25">高素质人才，适应了当前的发展变化，而员工</tspan><tspan x="2042" dy="15.25">更好的充实了自己、更好的完成工作、更多的</tspan><tspan x="2042" dy="15.25">付出。</tspan></text></g>

<g id="b5-p1"><rect class="box" x="1759" y="2401" width="249" height="104" rx="6"/>
<text class="t" x="1766" y="2419"><tspan x="1766" dy="0">20__年已经过去，回首一年来的工作，感慨</tspan><tspan x="1766" dy="15.25">颇深，时光如梭，不知不觉中来公司工作已一</tspan><tspan x="1766" dy="15.25">年有余了。在我看来，这是短暂而又漫长的一</tspan><tspan x="1766" dy="15.25">年。短暂的是我还没来得及掌握更多的工作技</tspan><tspan x="1766" dy="15.25">巧与专业知识，时光就已流逝;漫长的是要成</tspan><tspan x="1766" dy="15.25">为一名优秀的客服人员，今后的路还很漫长。</tspan></text></g>
<g id="b5-p2"><rect class="box" x="1759" y="2802" width="225" height="27" rx="6"/><text class="t" x="1766" y="2820">下面是我20__年一年来的主要工作总结：</text></g>
<g id="b5-i1"><rect class="box" x="2012" y="2529" width="249" height="43" rx="6"/>
<text class="t" x="2019" y="2547"><tspan x="2019" dy="0">1、按照要求，对顾客的档案资料进行归档管</tspan><tspan x="2019" dy="15.25">理，发生更改及时做好跟踪并更新。</tspan></text></g>
<g id="b5-i2"><rect class="box" x="2012" y="2597" width="249" height="43" rx="6"/>
<text class="t" x="2019" y="2615"><tspan x="2019" dy="0">2、对顾客的咨询及时进行回复，并记录在物</tspan><tspan x="2019" dy="15.25">流信息登记表上。</tspan></text></g>
<g id="b5-i3"><rect class="box" x="2012" y="2665" width="249" height="43" rx="6"/>
<text class="t" x="2019" y="2683"><tspan x="2019" dy="0">3、对于顾客反映的问题进行分类，联系快递</tspan><tspan x="2019" dy="15.25">师傅，进行跟踪及反馈。</tspan></text></g>
<g id="b5-i5"><rect class="box" x="2012" y="2733" width="249" height="58" rx="6"/>
<text class="t" x="2019" y="2751"><tspan x="2019" dy="0">5、接受各方面信息，在做好记录的同时通知</tspan><tspan x="2019" dy="15.25">相关部门和人员进行处理，并对此过程进行跟</tspan><tspan x="2019" dy="15.25">踪，完成后进行回访。</tspan></text></g>
<g id="b5-i6"><rect class="box" x="2012" y="2816" width="249" height="58" rx="6"/>
<text class="t" x="2019" y="2834"><tspan x="2019" dy="0">6、资料录入和文档编排工作。对公司的快递</tspan><tspan x="2019" dy="15.25">发出情况认真做好录入及编排打印，根据各部</tspan><tspan x="2019" dy="15.25">门的工作需要，制作表格文档，草拟报表等。</tspan></text></g>
<g id="b5-i7"><rect class="box" x="2012" y="2899" width="184" height="27" rx="6"/><text class="t" x="2019" y="2917">7、新旧表单的更换及投入使用。</text></g>
<g id="b5-i8"><rect class="box" x="2012" y="3067" width="220" height="27" rx="6"/><text class="t" x="2019" y="3085">8、完成上级领导交办的其它工作任务。</text></g>
<g id="b5-i8-1"><rect class="box" x="2260" y="2952" width="252" height="256" rx="6"/>
<text class="t" x="2267" y="2970"><tspan x="2267" dy="0">在完成上述工作的过程中，我学到了很多，也</tspan><tspan x="2267" dy="15.25">成长了不少。工作中的磨砺塑造了我的性格，也</tspan><tspan x="2267" dy="15.25">提升了自身的心理素质。客服工作总结与计划</tspan><tspan x="2267" dy="15.25">。对于我这个刚刚步入社会，工作经验还不够</tspan><tspan x="2267" dy="15.25">丰富的人而言，工作中难免会遇到各种各样的</tspan><tspan x="2267" dy="15.25">阻碍和困难，幸运的是在公司领导和同事们的</tspan><tspan x="2267" dy="15.25">大力帮助下，让我在遇到困难时敢于能够去面</tspan><tspan x="2267" dy="15.25">对，敢于接受挑战，性格也逐步沉淀下来。在</tspan><tspan x="2267" dy="15.25">我深刻体会到职业精神和微笑服务的真正含义</tspan><tspan x="2267" dy="15.25">。所谓职业精神就是当你在工作岗位时，无论</tspan><tspan x="2267" dy="15.25">你之前有多辛苦，都应把工作做到位，尽到自</tspan><tspan x="2267" dy="15.25">己的工作职责。所谓微笑服务就是当你面对客</tspan><tspan x="2267" dy="15.25">户时，无论你高兴与否，烦恼与否，都应以工</tspan><tspan x="2267" dy="15.25">作为重，急客户所急，始终保持微笑，因为我</tspan><tspan x="2267" dy="15.25">代表的不单是我个人的形象，更是公司的形象</tspan><tspan x="2267" dy="15.25">。</tspan></text></g>
</svg>
